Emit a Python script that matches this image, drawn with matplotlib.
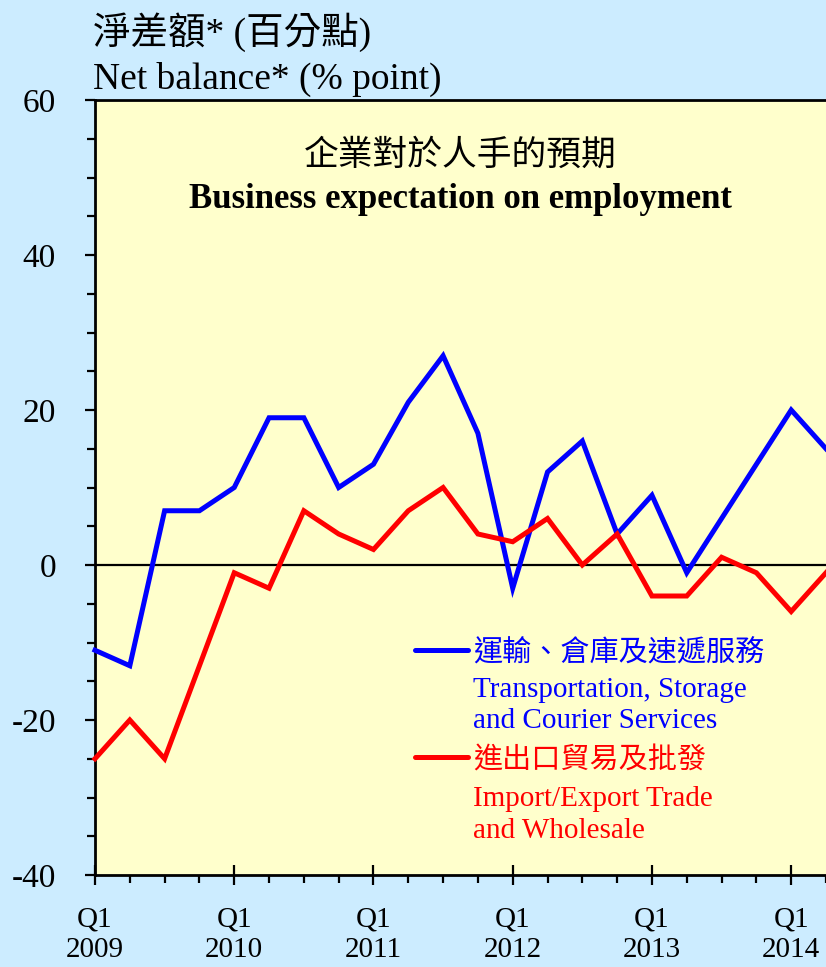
import matplotlib.pyplot as plt
import numpy as np

plt.rcParams['font.family'] = ['Liberation Serif', 'Noto Sans CJK TC']

# quarterly data, Q1 2009 .. Q2 2014
quarters = np.arange(22)
transport = [-11, -13, 7, 7, 10, 19, 19, 10, 13, 21, 27, 17,
             -3, 12, 16, 4, 9, -1, 6, 13, 20, 15]
trade = [-25, -20, -25, -13, -1, -3, 7, 4, 2, 7, 10, 4,
         3, 6, 0, 4, -4, -4, 1, -1, -6, -1]
years = ['2009', '2010', '2011', '2012', '2013', '2014']
yticks = [-40, -20, 0, 20, 40, 60]

bg = '#CCECFF'
fig = plt.figure(figsize=(8.26, 9.67), dpi=100, facecolor=bg)
ax = fig.add_axes([95 / 826, 1 - 875 / 967, 731 / 826, 775 / 967])
ax.set_facecolor('#FFFFCC')

ax.plot(quarters, transport, color='#0000FF', lw=3.6, solid_joinstyle='miter', clip_on=False, zorder=3)
ax.plot(quarters, trade, color='#FF0000', lw=3.6, solid_joinstyle='miter', clip_on=False, zorder=3)
ax.axhline(0, color='black', lw=1.6, zorder=2)

ax.set_xlim(0, 21)
ax.set_ylim(-40, 60)
ax.spines['right'].set_visible(False)
for s in ['left', 'bottom', 'top']:
    ax.spines[s].set_linewidth(2)

ax.set_yticks(yticks)
ax.set_yticklabels([str(v) for v in yticks])
ax.set_yticks(range(-40, 61, 5), minor=True)
ax.set_xticks(range(0, 22, 4))
ax.set_xticklabels(['Q1\n' + y for y in years], linespacing=1.2)
ax.set_xticks(range(0, 22), minor=True)
ax.tick_params(axis='y', which='major', length=7, width=1.6, labelsize=24, pad=21)
ax.tick_params(axis='y', which='minor', length=6, width=1.6)
ax.tick_params(axis='x', which='major', direction='inout', length=14, width=1.6, labelsize=21, pad=16)
ax.tick_params(axis='x', which='minor', direction='out', length=6, width=1.6)

fig.text(93 / 826, 1 - 32 / 967, '淨差額* (百分點)', fontsize=27, va='center', ha='left')
fig.text(93 / 826, 1 - 79 / 967, 'Net balance* (% point)', fontsize=27, va='center', ha='left')

def af(px, py):
    return ((px - 95) / 731, (875 - py) / 775)

ax.text(*af(460, 156), '企業對於人手的預期', transform=ax.transAxes, fontsize=25, ha='center', va='center')
ax.text(*af(460, 200), 'Business expectation on employment', transform=ax.transAxes,
        fontsize=25, fontweight='bold', ha='center', va='center')

# legend
for col, ly, lines in [('#0000FF', 650, [(654, '運輸、倉庫及速遞服務'), (690, 'Transportation, Storage'),
                                          (721, 'and Courier Services')]),
                       ('#FF0000', 757, [(761, '進出口貿易及批發'), (799, 'Import/Export Trade'),
                                          (831, 'and Wholesale')])]:
    x0, y0 = af(415, ly)
    x1, _ = af(468, ly)
    ax.plot([x0, x1], [y0, y0], color=col, lw=3.6, transform=ax.transAxes, solid_capstyle='round')
    for py, t in lines:
        ax.text(*af(473, py), t, transform=ax.transAxes, color=col, fontsize=21, ha='left', va='center')

fig.savefig('out.png', dpi=100, facecolor=bg)
